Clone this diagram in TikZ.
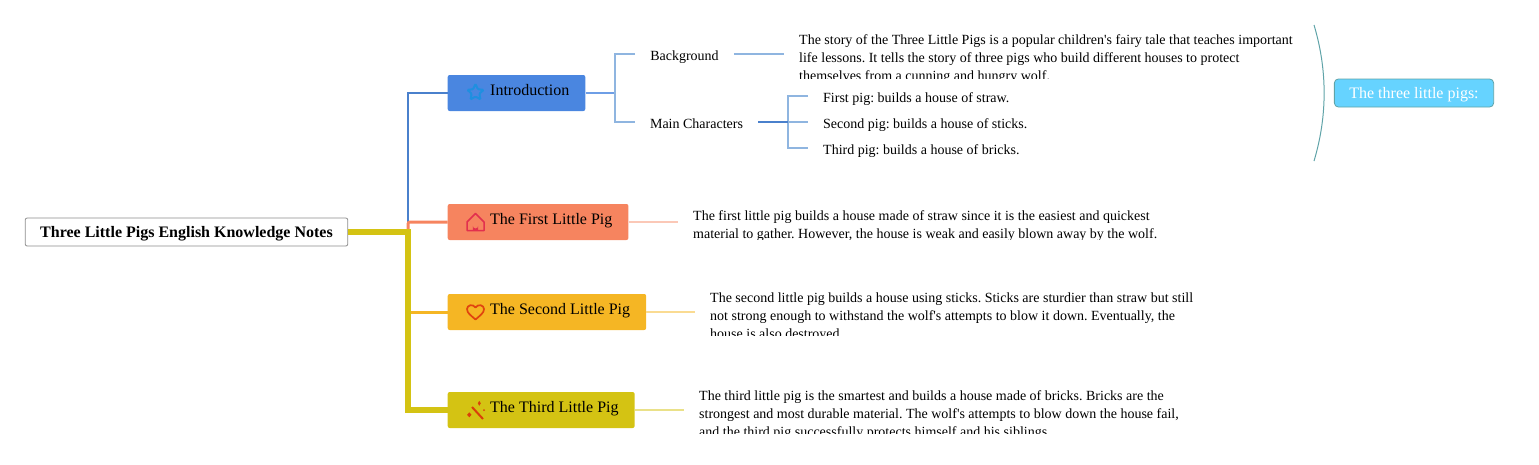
\documentclass[tikz,border=0pt]{standalone}
\usepackage{fontspec}
\setmainfont{Liberation Serif}[Ligatures=TeXOff]
\frenchspacing
\usetikzlibrary{shapes.geometric}
\definecolor{introblue}{HTML}{4A86E0}
\definecolor{trunkblue}{HTML}{4A80CC}
\definecolor{sublineblue}{HTML}{8FB5E0}
\definecolor{firstred}{HTML}{F6845F}
\definecolor{secondamber}{HTML}{F5B624}
\definecolor{thirdgold}{HTML}{D4C313}
\definecolor{notefill}{HTML}{66D3FF}
\definecolor{noteline}{HTML}{5FA3A8}
\definecolor{staricon}{HTML}{1F8FE0}
\definecolor{houseicon}{HTML}{E2304E}
\definecolor{hearticon}{HTML}{E0440F}
\definecolor{wandicon}{HTML}{D9400A}
\tikzset{
  topicbox/.style={rectangle, rounded corners=2pt, inner ysep=0pt, inner xsep=16pt,
    text height=20pt, text depth=16pt, font=\fontsize{16}{18}\selectfont},
  rootbox/.style={draw=gray!90, line width=0.8pt, rectangle, rounded corners=2pt, inner ysep=0pt, inner xsep=15pt,
    text height=19pt, text depth=9pt, font=\fontsize{16}{18}\selectfont\bfseries},
  notebox/.style={draw=noteline, line width=0.8pt, fill=notefill, rectangle, rounded corners=4pt, inner ysep=0pt,
    inner xsep=15pt, text height=19.5pt, text depth=8.5pt, text=white, font=\fontsize{16}{18}\selectfont},
  leaf/.style={inner ysep=0pt, inner xsep=15pt, text height=12pt, text depth=0pt,
    font=\fontsize{14}{18}\selectfont},
  para/.style={anchor=west, align=left, inner ysep=0pt, inner xsep=15pt, text depth=0pt,
    font=\fontsize{14}{18}\selectfont},
  branch/.style={line width=#1, line join=miter},
  bare/.style={inner sep=0pt, minimum size=0pt}
}
\begin{document}
\begin{tikzpicture}[x=1pt, y=-1pt]
    \useasboundingbox (0,0) rectangle (1539,464);

    % root and main topics
    \node[rootbox] (root) at (186.5,232) {Three Little Pigs English Knowledge Notes};
    \coordinate (trunk) at (408,232);
    \node[topicbox, fill=introblue, anchor=west] (intro) at (447.5,93) {\hspace*{26.5pt}Introduction};
    \node[topicbox, fill=firstred, anchor=west] (first) at (447.5,222) {\hspace*{26.5pt}The First Little Pig};
    \node[topicbox, fill=secondamber, anchor=west] (second) at (447.5,312) {\hspace*{26.5pt}The Second Little Pig};
    \node[topicbox, fill=thirdgold, anchor=west] (third) at (447.5,410) {\hspace*{26.5pt}The Third Little Pig};

    % icons
    \node[bare, star, star points=5, star point ratio=2.1, draw=staricon, line width=2pt,
      rounded corners=1pt, minimum size=17pt] (starmark) at (475.5,92.5) {};
    \draw[draw=houseicon, line width=1.5pt, line join=round]
      (467,230.5) -- (467,222) -- (475.5,213.5) -- (484,222) -- (484,230.5) -- cycle;
    \fill[houseicon] (472.8,230.5) -- (472.8,225.8) arc (180:0:2.7) -- (478.2,230.5) -- cycle;
    \draw[draw=hearticon, line width=1.7pt, line join=round]
      (475.5,319.5) .. controls (471,315.5) and (467,313) .. (467,309)
      .. controls (467,305) and (473,303.5) .. (475.5,307.5)
      .. controls (478,303.5) and (484,305) .. (484,309)
      .. controls (484,313) and (480,315.5) .. (475.5,319.5) -- cycle;
    \draw[draw=wandicon, line width=2pt] (472,407) -- (483,419);
    \fill[wandicon] (479.3,400.8) -- (480.8,403.3) -- (479.3,405.8) -- (477.8,403.3) -- cycle;
    \fill[wandicon] (469.3,412.3) -- (471.5,414.8) -- (469.3,417.3) -- (467.1,414.8) -- cycle;
    \fill[wandicon] (484,410) circle (1);

    % second level
    \begin{scope}
      \clip (630,40) rectangle (760,62);
      \node[leaf] (background) at (684.5,54) {Background};
    \end{scope}
    \node[leaf] (mainchars) at (696.5,122) {Main Characters};
    \coordinate (introfork) at (615,93);
    \coordinate (charsfork) at (788,122);

    % texts cut off at the bottom
    \begin{scope}
      \clip (784,28) rectangle (1310,78.5);
      \node[para, text height=52pt] (bgtext) at (784,54) {The story of the Three Little Pigs is a popular children's fairy tale that teaches important\\life lessons. It tells the story of three pigs who build different houses to protect\\themselves from a cunning and hungry wolf.};
    \end{scope}
    \begin{scope}
      \clip (678,205) rectangle (1200,239);
      \node[para, text height=32pt] (firsttext) at (678,222) {The first little pig builds a house made of straw since it is the easiest and quickest\\material to gather. However, the house is weak and easily blown away by the wolf.};
    \end{scope}
    \begin{scope}
      \clip (695,287) rectangle (1210,335.5);
      \node[para, text height=52pt] (secondtext) at (695,312) {The second little pig builds a house using sticks. Sticks are sturdier than straw but still\\not strong enough to withstand the wolf's attempts to blow it down. Eventually, the\\house is also destroyed.};
    \end{scope}
    \begin{scope}
      \clip (684,385) rectangle (1200,433.5);
      \node[para, text height=52pt] (thirdtext) at (684,410) {The third little pig is the smartest and builds a house made of bricks. Bricks are the\\strongest and most durable material. The wolf's attempts to blow down the house fail,\\and the third pig successfully protects himself and his siblings.};
    \end{scope}

    % leaves
    \begin{scope}
      \clip (808,86) rectangle (1040,104);
      \node[leaf, anchor=west] (pigone) at (808,96) {First pig: builds a house of straw.};
    \end{scope}
    \begin{scope}
      \clip (808,112) rectangle (1040,130);
      \node[leaf, anchor=west] (pigtwo) at (808,122) {Second pig: builds a house of sticks.};
    \end{scope}
    \begin{scope}
      \clip (808,138) rectangle (1040,156);
      \node[leaf, anchor=west] (pigthree) at (808,148) {Third pig: builds a house of bricks.};
    \end{scope}

    % summary
    \node[notebox] (pigsnote) at (1414,93) {The three little pigs:};
    \coordinate (bracetop) at (1314,25);
    \coordinate (bracebot) at (1314,161);
    \draw[noteline, line width=1pt] (bracetop) .. controls (1327.5,70) and (1327.5,116) .. (bracebot);

    % main branches
    \draw[branch=2pt, trunkblue] (trunk) |- (intro.west);
    \draw[branch=3pt, firstred, rounded corners=2pt] (trunk) |- (first.west);
    \draw[branch=3pt, secondamber] (trunk) |- (second.west);
    \draw[branch=5.5pt, thirdgold] (root.east) -- (trunk) |- (third.west);

    % sub branches
    \draw[branch=1.5pt, introblue!80!white] (intro.east) -- (introfork);
    \draw[branch=1.5pt, sublineblue] (background.west) -| (introfork) |- (mainchars.west);
    \draw[branch=1.2pt, sublineblue] (background.east) -- (bgtext.west);
    \draw[branch=1.2pt, sublineblue] (pigone.west) -| (charsfork) |- (pigthree.west);
    \draw[branch=1.2pt, sublineblue] (charsfork) -- (pigtwo.west);
    \draw[branch=1.5pt, trunkblue] (mainchars.east) -- (charsfork);
    \draw[branch=1.5pt, firstred!45!white] (first.east) -- (firsttext.west);
    \draw[branch=1.5pt, secondamber!50!white] (second.east) -- (secondtext.west);
    \draw[branch=1.5pt, thirdgold!50!white] (third.east) -- (thirdtext.west);
\end{tikzpicture}
\end{document}
